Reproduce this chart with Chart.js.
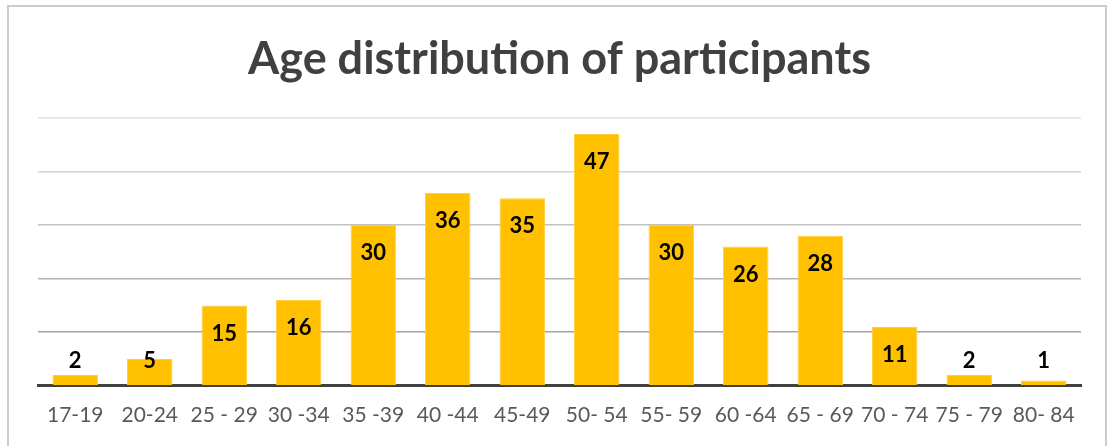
<!DOCTYPE html>
<html>
<head>
<meta charset="utf-8">
<script src="https://cdn.jsdelivr.net/npm/chart.js@4.4.1/dist/chart.umd.min.js"></script>
<style>
    body { margin: 0; background: #ffffff; }
    #wrap { position: relative; width: 1111px; height: 446px; overflow: hidden; }
    #frame { position: absolute; left: 7px; top: 5px; width: 1100px; height: 500px; border: 2px solid #cccccc; box-sizing: border-box; }
    #myChart { position: absolute; left: 0; top: 0; }
</style>
</head>
<body>
<div id="wrap">
    <div id="frame"></div>
    <canvas id="myChart" width="1111" height="446"></canvas>
</div>
<script>
var ageGroups = ["17-19", "20-24", "25 - 29", "30 -34", "35 -39", "40 -44", "45-49", "50- 54", "55- 59", "60 -64", "65 - 69", "70 - 74", "75 - 79", "80- 84"];
var participants = [2, 5, 15, 16, 30, 36, 35, 47, 30, 26, 28, 11, 2, 1];
var gridTicks = [0, 10, 20, 30, 40, 50];
var gridColors = ["rgba(0,0,0,0)", "#a3a3a3", "#b3b3b3", "#c2c2c2", "#d3d3d3", "#e2e2e2"];

// draws the value inside the top of each bar (above it when the bar is too short)
var valueLabels = {
    id: 'valueLabels',
    afterDatasetsDraw: function (chart) {
        var ctx = chart.ctx;
        var meta = chart.getDatasetMeta(0);
        var yScale = chart.scales.y;
        var base = yScale.getPixelForValue(0);
        ctx.save();
        ctx.font = "bold 22px Lato";
        ctx.fillStyle = "#000000";
        ctx.textAlign = "center";
        ctx.textBaseline = "middle";
        for (var i = 0; i < meta.data.length; i++) {
            var bar = meta.data[i];
            var y = Math.min(bar.y + 28, base - 25);
            ctx.fillText(String(participants[i]), bar.x, y);
        }
        ctx.restore();
    }
};

var ctx = document.getElementById('myChart').getContext('2d');
var myChart = new Chart(ctx, {
    type: 'bar',
    data: {
        labels: ageGroups,
        datasets: [{
            label: 'Participants',
            data: participants,
            backgroundColor: "#FFC000",
            borderColor: "#FFCF40",
            borderWidth: 1,
            barPercentage: 0.61,
            categoryPercentage: 1
        }]
    },
    options: {
        responsive: false,
        animation: false,
        layout: {
            padding: { left: 38, right: 30, top: 0, bottom: 1 }
        },
        plugins: {
            legend: { display: false },
            tooltip: { enabled: false },
            title: {
                display: true,
                text: "Age distribution of participants",
                color: "#404040",
                font: { family: "Lato", size: 45, weight: "bold", lineHeight: 1.2 },
                padding: { top: 32, bottom: 32 }
            }
        },
        scales: {
            x: {
                grid: { display: false, drawTicks: false },
                border: { display: true, color: "#404040", width: 3 },
                ticks: {
                    color: "#595959",
                    padding: 17,
                    maxRotation: 0,
                    autoSkip: false,
                    font: { family: "Lato", size: 21 }
                }
            },
            y: {
                min: 0,
                max: 50,
                afterBuildTicks: function (scale) {
                    scale.ticks = gridTicks.map(function (v) { return { value: v }; });
                },
                border: { display: false },
                grid: {
                    drawTicks: false,
                    lineWidth: 1.5,
                    color: function (c) { return gridColors[c.index] || "#d9d9d9"; }
                },
                ticks: { display: false }
            }
        }
    },
    plugins: [valueLabels]
});
</script>
</body>
</html>
